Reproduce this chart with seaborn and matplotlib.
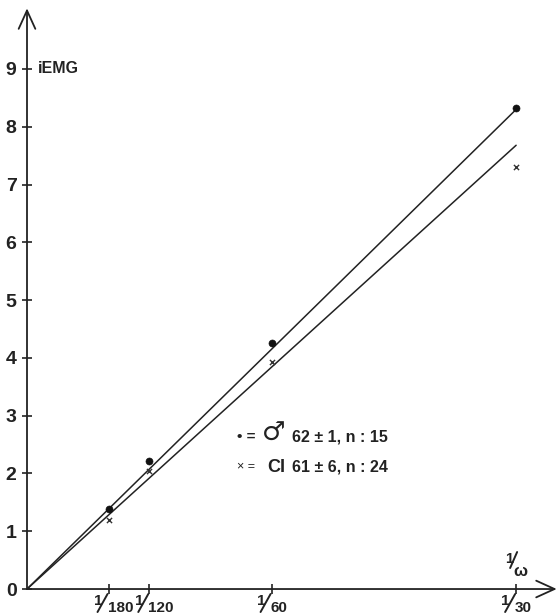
import matplotlib
matplotlib.use('Agg')
import matplotlib.pyplot as plt
import matplotlib.transforms as mtransforms
from matplotlib.lines import Line2D
import seaborn as sns
import pandas as pd

# x positions are 1/omega
x_labels = ['180', '120', '60', '30']
x_values = [1 / 180, 1 / 120, 1 / 60, 1 / 30]
male_iemg = [1.38, 2.22, 4.26, 8.32]
cl_iemg = [1.19, 2.04, 3.93, 7.30]
# straight lines from origin, value reached at 1/30
fit_end = [8.30, 7.68]
group_names = ['male', 'cl']

sns.set_theme(style='white')
plt.rcParams['font.family'] = ['Liberation Sans', 'DejaVu Sans']

INK = '#222222'

points = pd.DataFrame({
    'x': x_values * 2,
    'y': male_iemg + cl_iemg,
    'group': [group_names[0]] * 4 + [group_names[1]] * 4,
})
lines = pd.DataFrame({
    'x': [0, x_values[-1], 0, x_values[-1]],
    'y': [0, fit_end[0], 0, fit_end[1]],
    'group': [group_names[0]] * 2 + [group_names[1]] * 2,
})

fig = plt.figure(figsize=(5.59, 6.16), dpi=100)
ax = fig.add_axes([0.0483, 0.0438, 0.945, 0.938])

sns.lineplot(data=lines, x='x', y='y', units='group', estimator=None,
             color=INK, lw=1.1, ax=ax, legend=False)
sns.scatterplot(data=points[points['group'] == 'male'], x='x', y='y',
                color='#111111', marker='o', s=26, edgecolor='#111111',
                ax=ax, legend=False, zorder=3)
sns.scatterplot(data=points[points['group'] == 'cl'], x='x', y='y',
                color='#333333', marker='x', s=14, linewidth=1.0,
                ax=ax, legend=False, zorder=3)

ax.set_xlim(0, 0.036)
ax.set_ylim(0, 10)
for s in ax.spines.values():
    s.set_visible(False)

# axes with open arrow heads
arrow = dict(arrowstyle='->,head_length=1.1,head_width=0.5',
             lw=1.3, color=INK, shrinkA=0, shrinkB=0)
ax.annotate('', xy=(0.0361, 0), xytext=(0, 0), annotation_clip=False,
            arrowprops=arrow)
ax.annotate('', xy=(0, 10.05), xytext=(0, 0), annotation_clip=False,
            arrowprops=arrow)

ax.set_yticks(range(0, 10))
ax.set_yticklabels([str(i) for i in range(0, 10)], fontsize=14,
                   fontweight='bold', color=INK)
ax.set_xticks(x_values)
ax.set_xticklabels([])
ax.tick_params(axis='both', direction='inout', length=7, width=1.2,
               color=INK, left=True, bottom=True, pad=4)
ax.set_xlabel('')
ax.set_ylabel('')


def fraction(ax, xv, denom, one_off, slash, den_off, sizes):
    """Writes 1/denom next to x value xv on the x axis, offsets in pixels."""
    tr = mtransforms.Affine2D() + mtransforms.ScaledTranslation(
        xv, 0, ax.get_xaxis_transform())
    ax.text(one_off[0], one_off[1], '1', transform=tr, ha='center',
            va='top', fontsize=sizes[0], fontweight='bold', color=INK,
            clip_on=False)
    ax.add_artist(Line2D(slash[0], slash[1], transform=tr, color=INK,
                         lw=1.4, clip_on=False))
    ax.text(den_off[0], den_off[1], denom, transform=tr, ha='left',
            va='top', fontsize=sizes[1], fontweight='bold', color=INK,
            clip_on=False)


for xv, lab in zip(x_values, x_labels):
    fraction(ax, xv, lab, (-10.5, -5), ([-11, -1], [-23, -5]),
             (-1, -12), (11, 11))

# axis name 1/omega above the x axis, by its last tick
fraction(ax, x_values[-1], '\u03c9', (-7, 37), ([-6, 1], [21, 37]),
         (-3, 25), (10.5, 12))

ax.text(0.00075, 9.0, 'iEMG', fontsize=11.5, fontweight='bold',
        color=INK, va='center')

# key
ax.text(0.01431, 2.63, '\u2022 =', fontsize=11, fontweight='bold',
        color=INK, va='center')
ax.text(0.0160, 2.68, '\u2642', fontsize=19, color=INK, va='center',
        family='DejaVu Sans')
ax.text(0.01806, 2.63, '62 \u00b1 1, n : 15', fontsize=11.5,
        fontweight='bold', color=INK, va='center')
ax.text(0.01431, 2.11, '\u00d7 =', fontsize=9, color=INK, va='center')
ax.text(0.01636, 2.11, 'CI', fontsize=13, fontweight='bold', color=INK,
        va='center')
ax.text(0.01806, 2.11, '61 \u00b1 6, n : 24', fontsize=11.5,
        fontweight='bold', color=INK, va='center')

fig.savefig('out.png', dpi=100)
